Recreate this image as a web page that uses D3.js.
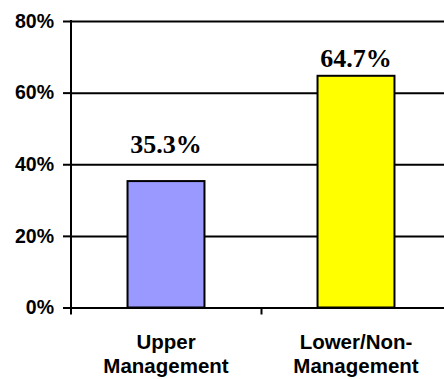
<!DOCTYPE html>
<html>
<head>
<meta charset="utf-8">
<script src="https://cdn.jsdelivr.net/npm/d3@7"></script>
<style>
  body { margin: 0; background: #fff; }
  svg { display: block; }
</style>
</head>
<body>
<svg id="chart" width="444" height="379"></svg>
<script>
// data
const categories = [["Upper", "Management"], ["Lower/Non-", "Management"]];
const values = [35.3, 64.7];
const yTicks = [0, 20, 40, 60, 80];
const barColors = ["#9999ff", "#ffff00"];
// labels were nudged by hand in the original, so keep the lift per bar
const labelLift = [28, 9];

const width = 444;
const height = 379;
const left = 71;
const plotRight = 451; // plot runs a bit past the window edge

const svg = d3.select("#chart");

const y = d3.scaleLinear().domain([0, 80]).range([307.5, 21]);

const x = d3
  .scaleBand()
  .domain(d3.range(values.length))
  .range([left, plotRight])
  .padding(0);

const barW = x.bandwidth() * 0.405;

// gridlines
svg
  .append("g")
  .attr("class", "grid")
  .attr("transform", `translate(${left},0)`)
  .call(d3.axisLeft(y).tickValues(yTicks).tickSize(-(width - left)).tickFormat(""))
  .call((g) => g.select(".domain").remove())
  .call((g) => g.selectAll("line").attr("stroke", "#000").attr("stroke-width", 2));

// y axis with labels
svg
  .append("g")
  .attr("transform", `translate(${left},0)`)
  .call(
    d3
      .axisLeft(y)
      .tickValues(yTicks)
      .tickSize(8)
      .tickPadding(9)
      .tickFormat((d) => d + "%")
  )
  .call((g) => g.select(".domain").remove())
  .call((g) => g.selectAll("line").attr("stroke", "#000").attr("stroke-width", 2))
  .call((g) =>
    g
      .selectAll("text")
      .attr("fill", "#000")
      .style("font-family", "'Liberation Sans', Arial, sans-serif")
      .style("font-weight", "bold")
      .style("font-size", "19.5px")
  );

// vertical axis line, running just below zero
svg
  .append("line")
  .attr("x1", left)
  .attr("x2", left)
  .attr("y1", y(80) - 1)
  .attr("y2", y(0) + 7)
  .attr("stroke", "#000")
  .attr("stroke-width", 2);

// category boundary ticks
const xEdge = d3.scaleLinear().domain([0, values.length]).range([left, plotRight]);
svg
  .append("g")
  .attr("transform", `translate(0,${y(0)})`)
  .call(d3.axisBottom(xEdge).tickValues(d3.range(1, values.length + 1)).tickSize(7).tickFormat(""))
  .call((g) => g.select(".domain").remove())
  .call((g) => g.selectAll("line").attr("stroke", "#000").attr("stroke-width", 2));

// bars
svg
  .append("g")
  .selectAll("rect")
  .data(values)
  .join("rect")
  .attr("x", (d, i) => x(i) + (x.bandwidth() - barW) / 2)
  .attr("width", barW)
  .attr("y", (d) => y(d))
  .attr("height", (d) => y(0) - y(d))
  .attr("fill", (d, i) => barColors[i])
  .attr("stroke", "#000")
  .attr("stroke-width", 2);

// value labels
svg
  .append("g")
  .selectAll("text")
  .data(values)
  .join("text")
  .attr("x", (d, i) => x(i) + x.bandwidth() / 2)
  .attr("y", (d, i) => y(d) - labelLift[i])
  .attr("text-anchor", "middle")
  .style("font-family", "'Liberation Serif', 'Times New Roman', serif")
  .style("font-weight", "bold")
  .style("font-size", "26px")
  .text((d) => d.toFixed(1) + "%");

// category labels
const cat = svg
  .append("g")
  .selectAll("text")
  .data(categories)
  .join("text")
  .attr("text-anchor", "middle")
  .attr("x", (d, i) => x(i) + x.bandwidth() / 2)
  .attr("y", 348.5)
  .style("font-family", "'Liberation Sans', Arial, sans-serif")
  .style("font-weight", "bold")
  .style("font-size", "20.5px");

cat
  .selectAll("tspan")
  .data((d) => d)
  .join("tspan")
  .attr("x", function () {
    return this.parentNode.getAttribute("x");
  })
  .attr("dy", (d, i) => (i === 0 ? 0 : 24.3))
  .text((d) => d);
</script>
</body>
</html>
